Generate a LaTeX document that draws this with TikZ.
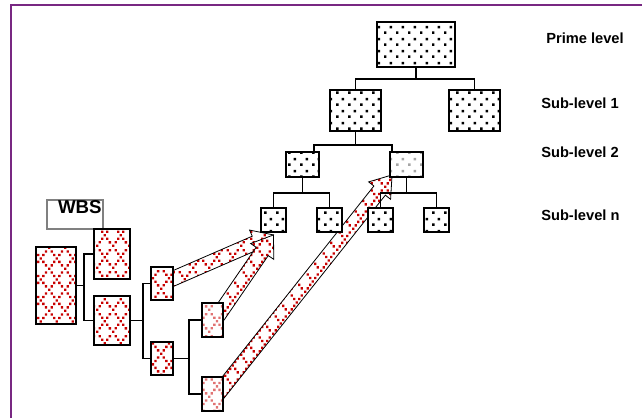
\documentclass[tikz,border=0pt]{standalone}
\usepackage{fontspec}
\setmainfont{Liberation Sans}
\usetikzlibrary{calc,patterns,backgrounds}
\definecolor{wbsred}{RGB}{200,0,0}
\definecolor{framepurple}{RGB}{120,40,130}
% staggered square dots of the tree boxes
\pgfdeclarepatternformonly{wbsdots}{\pgfqpoint{0pt}{0pt}}{\pgfqpoint{9pt}{9pt}}{\pgfqpoint{9pt}{9pt}}{%
  \pgfpathrectangle{\pgfqpoint{0pt}{0pt}}{\pgfqpoint{2pt}{2pt}}%
  \pgfpathrectangle{\pgfqpoint{4.5pt}{4.5pt}}{\pgfqpoint{2pt}{2pt}}%
  \pgfusepath{fill}}
% dotted diamond lattice of the WBS boxes
\pgfdeclarepatternformonly{wbscross}{\pgfqpoint{0pt}{0pt}}{\pgfqpoint{12pt}{16pt}}{\pgfqpoint{12pt}{16pt}}{%
  \foreach \k in {0,...,5}{%
    \pgfpathrectangle{\pgfpoint{\k*2pt}{\k*2.667pt}}{\pgfqpoint{1.8pt}{1.8pt}}}%
  \foreach \k in {1,2,4,5}{%
    \pgfpathrectangle{\pgfpoint{\k*2pt}{16pt-\k*2.667pt}}{\pgfqpoint{1.8pt}{1.8pt}}}%
  \pgfusepath{fill}}
% wide hollow arrow from #1 to #2
\newcommand\wbsarrow[2]{%
  \begin{pgfonlayer}{background}
  \coordinate (hb) at ($(#2)!15pt!(#1)$);
  \draw[line width=0.6pt,preaction={fill=white},pattern=wbscross,pattern color=wbsred]
    ($(#1)!5.5pt!90:(#2)$) -- ($(hb)!5.5pt!90:(#2)$) -- ($(hb)!10.5pt!90:(#2)$) -- (#2)
    -- ($(hb)!10.5pt!-90:(#2)$) -- ($(hb)!5.5pt!-90:(#2)$) -- ($(#1)!5.5pt!-90:(#2)$) -- cycle;
  \end{pgfonlayer}}

\begin{document}
\begin{tikzpicture}[x=0.75pt,y=-0.75pt,
  tbox/.style={draw,line width=1.4pt,preaction={fill=white},pattern=wbsdots,inner sep=0pt},
  xbox/.style={draw,line width=1.4pt,preaction={fill=white},pattern=wbscross,pattern color=wbsred,inner sep=0pt},
  lvl/.style={font=\fontsize{11}{13}\selectfont\bfseries,anchor=west,inner sep=0pt},
  link/.style={line width=1.4pt}]
  \useasboundingbox (0,0) rectangle (642,418);
  \draw[framepurple,line width=1.3pt] (11,418) -- (11,5) -- (642,5);

  % the project tree
  \node[tbox,minimum width=58.5pt,minimum height=33.75pt] (prime) at (416,44.5) {};
  \node[tbox,minimum width=38.25pt,minimum height=30.75pt] (s1a) at (355.5,110.5) {};
  \node[tbox,minimum width=38.25pt,minimum height=30.75pt] (s1b) at (474.5,110.5) {};
  \node[tbox,minimum width=24.75pt,minimum height=18.75pt] (s2a) at (302.5,164.5) {};
  \node[tbox,pattern color=gray!70,minimum width=24.75pt,minimum height=18.75pt] (s2b) at (406.5,164.5) {};
  \node[tbox,minimum width=18.75pt,minimum height=18pt] (sn1) at (273.5,220) {};
  \node[tbox,minimum width=18.75pt,minimum height=18pt] (sn2) at (329.5,220) {};
  \node[tbox,minimum width=18.75pt,minimum height=18pt] (sn3) at (380.5,220) {};
  \node[tbox,minimum width=18.75pt,minimum height=18pt] (sn4) at (436.5,220) {};

  \draw[link] (prime.south) -- ++(0,11) coordinate (t1);
  \draw[link] (s1a.north) |- (t1) -| (s1b.north);
  \draw[link] (s1a.south) -- ++(0,13) coordinate (t2);
  \draw[link] ([xshift=-4.5pt]s2a.north east) |- (t2) -| ([xshift=2.25pt]s2b.north west);
  \draw[link] (s2a.south) -- ++(0,15) coordinate (t3);
  \draw[link] (sn1.north) |- (t3) -| (sn2.north);
  \draw[link] (s2b.south) -- ++(0,15) coordinate (t4);
  \draw[link] (sn3.north) |- (t4) -| (sn4.north);

  \node[lvl] (lprime) at (546,38) {Prime level};
  \node[lvl] (l1) at (541,103) {Sub-level 1};
  \node[lvl] (l2) at (541,152) {Sub-level 2};
  \node[lvl] (ln) at (541,215) {Sub-level n};

  % the WBS
  \node[draw=gray,line width=0.9pt,minimum width=42pt,minimum height=21.75pt,inner sep=0pt,
    text width=40pt,align=right,text height=10pt,text depth=11.75pt,
    font=\fontsize{14}{16}\selectfont\bfseries] (wbs) at (75,214.5) {WBS};
  \node[xbox,minimum width=30pt,minimum height=57.75pt] (big) at (56,285.5) {};
  \node[xbox,minimum width=27pt,minimum height=37.5pt] (wa) at (112,254) {};
  \node[xbox,minimum width=27pt,minimum height=36.75pt] (wb) at (112,320.5) {};
  \node[xbox,minimum width=16.5pt,minimum height=24.75pt] (wc) at (162,283.5) {};
  \node[xbox,minimum width=16.5pt,minimum height=24.75pt] (wd) at (162,358.5) {};
  \node[xbox,pattern color=wbsred!55,minimum width=15.75pt,minimum height=25.5pt] (we) at (212.5,320) {};
  \node[xbox,pattern color=wbsred!55,minimum width=15.75pt,minimum height=25.5pt] (wf) at (212.5,394) {};

  \draw[link] (big.east) -- ++(7,0) coordinate (j1);
  \draw[link] (wa.west) -| (j1) |- (wb.west);
  \draw[link] (wb.east) -- ++(12,0) coordinate (j2);
  \draw[link] (wc.west) -| (j2) |- (wd.west);
  \draw[link] (wd.east) -- ++(15,0) coordinate (j3);
  \draw[link] (we.west) -| (j3) |- (wf.west);

  % mapping onto the tree
  \wbsarrow{[shift={(-3,-4)}]wc.east}{[yshift=-1.5pt]sn1.south}
  \wbsarrow{[shift={(-6,-4)}]we.east}{[yshift=-1.5pt]sn1.south}
  \wbsarrow{[xshift=-4.5pt]wf.east}{[shift={(3,-3)}]s2b.south west}
\end{tikzpicture}
\end{document}
